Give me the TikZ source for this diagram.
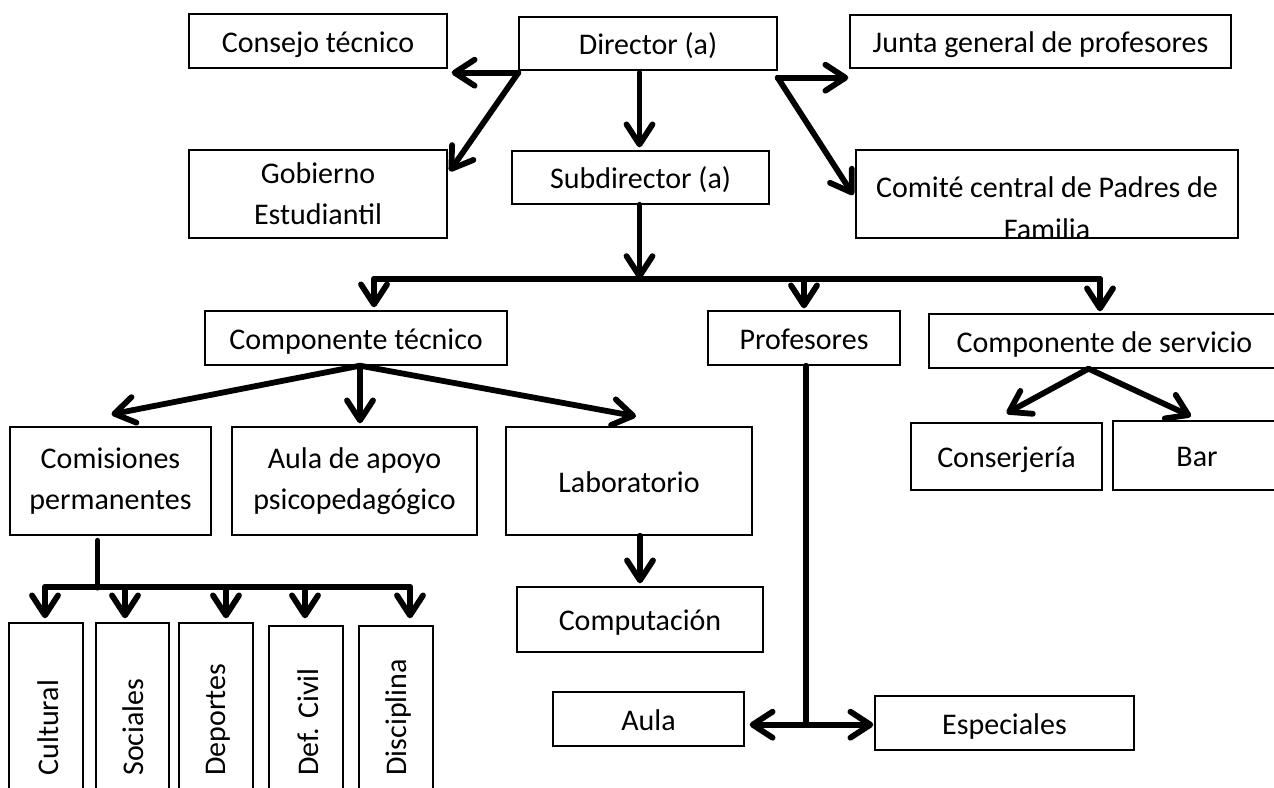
\documentclass[tikz,border=0pt]{standalone}
\usepackage{fontspec}
\setmainfont{Carlito}
\usetikzlibrary{arrows.meta,calc}
\begin{document}
\begin{tikzpicture}[x=0.5pt,y=-0.5pt,
  box/.style={draw, line width=0.7pt, inner sep=0pt, align=center,
    font=\fontsize{15pt}{20.5pt}\selectfont},
  one/.style={text height=13pt, text depth=2pt},
  txt/.style={inner sep=0pt, align=center, font=\fontsize{15pt}{21pt}\selectfont},
  link/.style={line width=2.9pt, line cap=round, line join=round},
  arr/.style={link, -{Straight Barb[round,length=10pt,width=13pt]}}
]
\useasboundingbox (0,0) rectangle (1274,787);

% top level
\node[box, one, minimum width=129pt, minimum height=27pt] (consejo) at (318,41) {Consejo técnico};
\node[box, one, minimum width=129pt, minimum height=26.5pt] (director) at (648,43.5) {Director (a)};
\node[box, one, minimum width=190.5pt, minimum height=26.5pt] (junta) at (1040.5,41.5) {Junta general de profesores};
\node[box, minimum width=129pt, minimum height=44pt] (gobierno) at (318,194) {Gobierno\\Estudiantil};
\node[box, one, minimum width=128.5pt, minimum height=26.5pt] (subdir) at (640.5,177.5) {Subdirector (a)};
\node[box, minimum width=191pt, minimum height=44pt] (comite) at (1047,194) {};
\begin{scope}
  \clip ([shift={(1,-1)}]comite.south west) rectangle ([shift={(-1,1)}]comite.north east);
  \node[txt] (comite-t) at ([shift={(0,14)}]comite.center) {Comité central de Padres de\\Familia};
\end{scope}

% second level
\node[box, one, minimum width=151pt, minimum height=27pt] (comptec) at (356,338) {Componente técnico};
\node[box, one, minimum width=96pt, minimum height=27pt] (profesores) at (804,338) {Profesores};
\node[box, one, minimum width=175.5pt, minimum height=27pt] (compserv) at (1104.5,341) {Componente de servicio};

% third level
\node[box, minimum width=100.5pt, minimum height=54pt] (comisiones) at (110.5,481) {Comisiones\\permanentes};
\node[box, minimum width=122.5pt, minimum height=54pt] (aulaapoyo) at (354.5,481) {Aula de apoyo\\psicopedagógico};
\node[box, one, minimum width=123pt, minimum height=54pt] (lab) at (629,481) {Laboratorio};
\node[box, one, minimum width=95.5pt, minimum height=33.5pt] (conserjeria) at (1006.5,456.5) {Conserjería};
\node[box, one, minimum width=84pt, minimum height=34.5pt] (bar) at (1197,455.5) {Bar};
\node[box, one, minimum width=123pt, minimum height=32.5pt] (computacion) at (640,619.5) {Computación};
\node[box, one, minimum width=95.5pt, minimum height=27pt] (aula) at (648.5,719) {Aula};
\node[box, one, minimum width=129.5pt, minimum height=27pt] (especiales) at (1004.5,723) {Especiales};

% vertical commission boxes
\node[box, minimum width=37pt, minimum height=88.5pt] (cultural) at (46,711.5) {};
\node[box, minimum width=36.5pt, minimum height=88.5pt] (sociales) at (132.5,711.5) {};
\node[box, minimum width=37pt, minimum height=88.5pt] (deportes) at (216,711.5) {};
\node[box, minimum width=37pt, minimum height=87pt] (defcivil) at (306,713) {};
\node[box, minimum width=37pt, minimum height=87pt] (disciplina) at (396,713) {};
\node[txt, rotate=90, anchor=west] (cultural-t) at (48,776) {Cultural};
\node[txt, rotate=90, anchor=west] (sociales-t) at (133,776) {Sociales};
\node[txt, rotate=90, anchor=west] (deportes-t) at (218,776) {Deportes};
\node[txt, rotate=90, anchor=west] (defcivil-t) at (308,776) {Def. Civil};
\node[txt, rotate=90, anchor=west] (disciplina-t) at (398,776) {Disciplina};

% connectors from Director
\coordinate (dL) at ($(director.south west)+(0,2)$);
\coordinate (dR) at ($(director.south east)+(0,7)$);
\draw[arr] (dL) -- ($(consejo.east |- dL)+(4,0)$);
\draw[arr] (dL) -- ($(gobierno.north east)+(2,22)$);
\draw[arr] ($(subdir.north |- director.south)+(-1,2)$) -- ($(subdir.north)+(-1,-3)$);
\draw[arr] (dR) -- ($(junta.west |- dR)+(-1,0)$);
\draw[arr] (dR) -- ($(comite.west)+(-2,1)$);

% bus from Subdirector
\coordinate (busL) at (374,279);
\coordinate (busR) at (1100,279);
\draw[arr] ($(subdir.south)+(-1,0)$) -- ($(subdir.south |- busL)+(-1,0)$);
\draw[link] (busL) -- (busR);
\draw[arr] (busL) -- ($(busL |- comptec.north)+(0,-3)$);
\draw[arr] (profesores.north |- busL) -- ($(profesores.north)+(0,-2)$);
\draw[arr] (busR) -- ($(busR |- compserv.north)+(0,-2)$);

% from Componente tecnico
\draw[arr] ($(comptec.south)+(4,0)$) -- ($(comisiones.north)+(1,-12)$);
\draw[arr] ($(comptec.south)+(4,0)$) -- ($(aulaapoyo.north)+(5.5,-3)$);
\draw[arr] ($(comptec.south)+(4,0)$) -- ($(lab.north)+(7,-10)$);

% from Componente de servicio
\draw[arr] ($(compserv.south)+(-16,0)$) -- ($(conserjeria.north)+(0,-9)$);
\draw[arr] ($(compserv.south)+(-16,0)$) -- ($(bar.north)+(-6,-4)$);

% Laboratorio to Computacion
\draw[arr] (computacion.north |- lab.south) -- ($(computacion.north)+(0,-3)$);

% Profesores to Aula / Especiales
\coordinate (junc) at ($(profesores.south)+(2,359)$);
\draw[link] ($(profesores.south)+(2,0)$) -- (junc);
\draw[arr] (junc) -- ($(aula.east |- junc)+(5,0)$);
\draw[arr] (junc) -- ($(especiales.west |- junc)+(-1,0)$);

% Comisiones bus
\coordinate (cbL) at (45,587);
\coordinate (cbR) at (410,587);
\draw[link] ($(comisiones.south)+(-13,5)$) -- ($(comisiones.south)+(-13,52)$);
\draw[link] (cbL) -- (cbR);
\draw[arr] (cbL) -- ($(cbL |- cultural.north)+(0,-4)$);
\draw[arr] (125,587) -- ($(125,0 |- sociales.north)+(0,-4)$);
\draw[arr] (226,587) -- ($(226,0 |- deportes.north)+(0,-4)$);
\draw[arr] (305,587) -- ($(305,0 |- defcivil.north)+(0,-7)$);
\draw[arr] (cbR) -- ($(cbR |- disciplina.north)+(0,-7)$);
\end{tikzpicture}
\end{document}
